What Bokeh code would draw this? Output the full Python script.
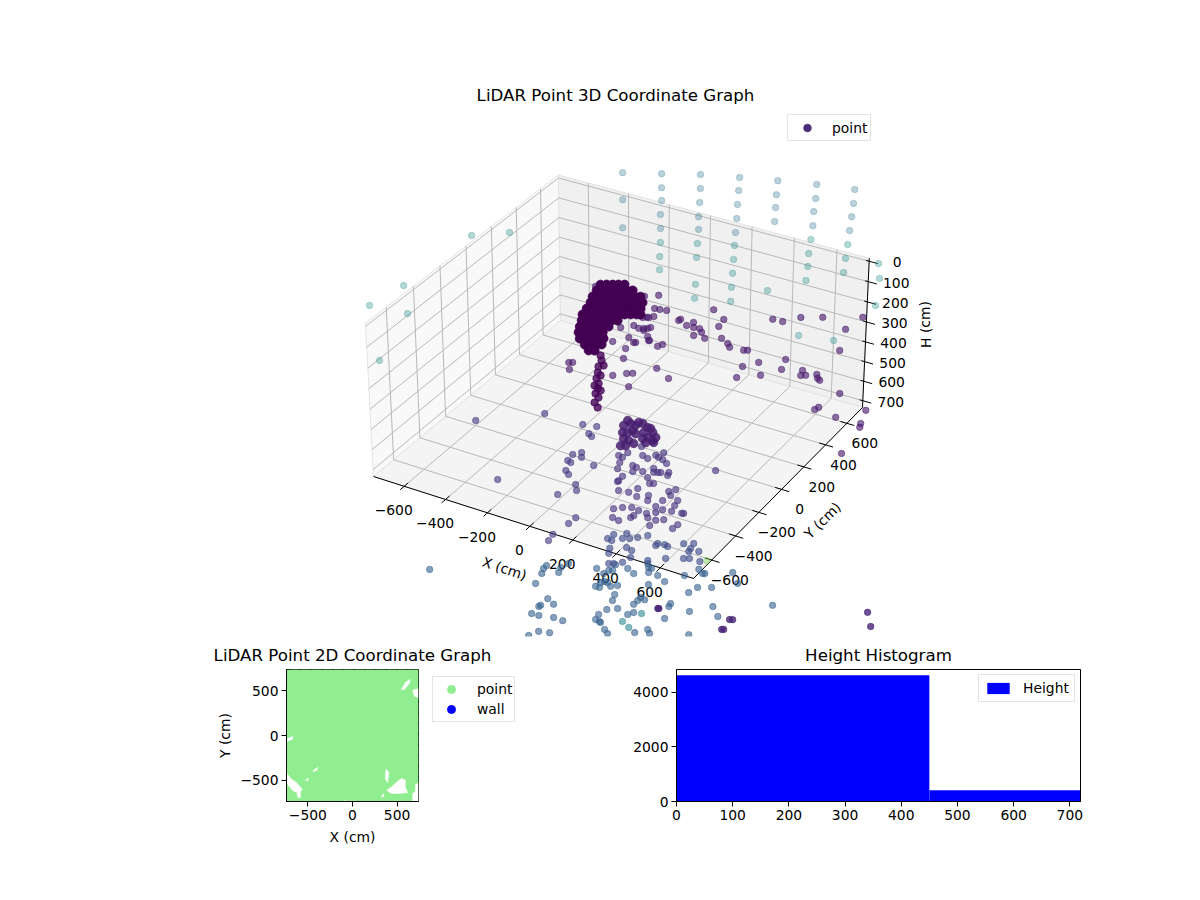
import numpy as np
from bokeh.embed import file_html
from bokeh.resources import INLINE
from bokeh.plotting import figure
from bokeh.layouts import column, row
from bokeh.core.properties import value
from bokeh.models import Legend, LegendItem, FixedTicker, Range1d, BoxAnnotation

# ---- 3D point groups, in cm (x, y, height) -------------------------------
far_top_x = [-187,-157,-126,-45,-30,-15,-4,12,96,111,124,136,150,241,252,263,276,287,382,393,404,416,527,539,546,559,670,681,689,697]
far_top_y = [329,277,222,403,376,351,321,294,478,451,422,392,367,548,521,492,463,433,617,587,560,531,686,656,627,598,750,721,691,660]
far_top_h = [-368,-271,-171,-367,-317,-271,-221,-171,-366,-316,-266,-216,-170,-359,-312,-262,-212,-162,-350,-300,-254,-204,-339,-289,-242,-192,-324,-274,-227,-177]

far_low_x = [27,40,54,161,174,200,212,298,310,322,333,346,467,567,575,586,595,706,713,722,874,858,838,629,761,-954,-853,-663,-529,-808,-857]
far_low_y = [267,238,212,338,309,254,225,406,377,348,319,290,383,567,535,508,477,629,598,566,565,626,653,357,415,-425,-319,-89,-9,-366,-512]
far_low_h = [-121,-71,-24,-120,-70,26,76,-116,-66,-16,34,84,43,-142,-92,-46,4,-127,-77,-27,89,-8,-61,202,217,124,51,-133,-146,151,320]

near_x = [79,79,99,125,85,61,46,294,179,185,235,214,241,264,275,293,250,341,331,354,382,393,447,461,515,461,452,536,518,556,617,696,841,792,794,609,605,682,681,699,738,745,755,842,769,781,854,955,951,952,915,153,207,86,76,64,85,96,132,148,-157,-171,-161,-36,19,22,2,50,72,72,-159,18,48,41,-22,23,44,62,68,29,93]
near_y = [161,127,135,146,110,94,86,240,151,157,176,156,166,176,173,167,151,241,217,200,202,198,220,228,225,186,153,204,337,352,396,439,517,460,408,284,257,296,283,292,316,310,310,324,244,256,269,342,306,297,211,15,18,82,74,63,59,55,59,72,-139,-146,-158,-19,-8,-31,-85,-54,-42,-76,54,20,24,20,23,53,57,66,98,131,53]
near_h = [68,115,118,121,144,147,148,115,156,152,162,173,180,184,197,218,209,149,174,217,235,248,258,258,300,316,356,346,145,153,137,135,132,176,252,288,324,326,344,343,339,353,360,406,465,457,491,464,511,525,620,329,364,183,187,194,216,230,250,243,313,314,339,236,260,296,357,349,348,396,41,221,238,238,185,177,187,187,148,72,230]

stem_x = [-64,-55,-59,-55,-53,-40,-38,-40,-25,-33,-17,-42,-42,-52,-25]
stem_y = [-70,-78,-96,-109,-123,-129,-140,-154,-156,-174,-177,-84,-109,-141,-138]
stem_h = [287,304,326,348,369,387,405,423,437,455,473,322,358,394,412]

core_x = [-143,-121,-99,-78,-56,
          -150,-128,-107,-85,-63,-42,-20,
          -158,-137,-115,-93,-72,-50,-28,-7,15,
          -159,-137,-115,-94,-72,-50,-29,-7,15,29,
          -166,-144,-123,-101,-79,-58,-36,-14,7,29,
          -175,-153,-131,-110,-88,-66,-45,-23,-1,20,35,
          -171,-150,-128,-106,-85,-63,-41,
          -171,-150,-128,-106,-85,-67,
          -169,-147,-126,-104,-82,
          -158,-137,-115,-93,-72,
          -133,-112,-90,-72,
          -113,-91]
core_y = [68,80,92,103,115,
          48,60,72,84,95,107,119,
          29,41,53,65,76,88,100,112,123,
          14,25,37,49,61,72,84,96,108,115,
          -6,6,17,29,41,52,64,76,88,99,
          -25,-13,-2,10,22,34,45,57,69,81,88,
          -39,-27,-16,-4,8,20,31,
          -55,-43,-31,-20,-8,2,
          -68,-56,-44,-33,-21,
          -78,-66,-54,-43,-31,
          -80,-68,-57,-47,
          -83,-72]
core_h = [34,33,33,32,32,
          55,54,54,54,53,53,52,
          77,77,76,76,75,75,75,74,74,
          98,98,97,97,97,96,96,95,95,95,
          120,120,120,119,119,118,118,118,117,117,
          142,141,141,140,140,140,139,139,138,138,138,
          163,163,162,162,161,161,161,
          185,185,184,184,183,183,
          206,206,205,205,204,
          228,228,227,227,226,
          249,248,248,247,
          270,270]

lower_core_x = [106,97,120,101,120,135,140,164,186,210,226,177,200,224,149,111,131,108,126,180,198,148,218,153,196]
lower_core_y = [-143,-161,-143,-177,-167,-153,-138,-120,-118,-118,-121,-136,-135,-135,-154,-186,-180,-206,-196,-149,-114,-126,-133,-176,-151]
lower_core_h = [517,535,528,560,560,553,535,527,541,558,576,559,577,594,564,582,589,608,608,581,544,523,587,599,595]

scatter_left_x = [-443,-201,-52,1,-20,-7,-298,-55,-25,-20,33,-66,-53,-62,-48,-11,-1,-65,26,7,-38,-47]
scatter_left_y = [-441,-293,-239,-216,-245,-245,-513,-317,-296,-305,-298,-339,-337,-362,-364,-370,-380,-424,-434,-460,-512,-532]
scatter_left_h = [528,498,535,541,567,577,737,643,635,652,680,664,671,700,714,750,771,787,868,889,929,952]

lower_mid_x = [185,142,112,128,124,123,199,220,246,272,258,276,294,174,190,181,217,253,257,272,283,312,311,241,255,269,149,140,137,151,189,218,223,264,267,321,333,356,344,375,370,365,331,303,309,479,153,184,217,245,233,224,277,286,159,184,318,346,404,411,302,402,388]
lower_mid_y = [-167,-206,-229,-225,-241,-257,-182,-178,-156,-136,-154,-151,-151,-221,-218,-233,-214,-186,-193,-185,-180,-164,-172,-215,-223,-215,-262,-278,-282,-298,-281,-257,-274,-248,-260,-231,-201,-184,-205,-201,-217,-234,-249,-256,-267,-69,-343,-323,-305,-297,-316,-326,-287,-293,-362,-356,-283,-266,-218,-215,-305,-248,-266]
lower_mid_h = [609,632,643,649,668,690,641,652,640,630,647,655,668,678,684,699,698,687,701,701,701,700,711,720,741,741,717,733,736,768,774,759,788,784,802,801,768,761,782,800,818,839,833,822,844,690,833,828,828,838,857,864,848,863,865,875,872,869,845,845,891,886,900]

front_mid_x = [182,164,181,228,218,244,272,306,243,264,183,185,346,351,377,390,445,481,475,472,508,461,482,523,268,334,396,214,245,196]
front_mid_y = [-393,-412,-408,-365,-383,-369,-352,-328,-393,-388,-427,-439,-332,-324,-313,-311,-274,-254,-269,-279,-259,-303,-291,-277,-404,-377,-338,-450,-430,-459]
front_mid_h = [925,941,947,921,939,939,934,927,971,982,975,993,962,955,958,964,953,952,970,981,980,1006,1006,1016,1007,1016,1007,1029,1024,1029]

front_x = [218,158,270,297,337,344,356,350,386,418,483,528,546,554,654,543,517,594,684,834,620,649,541,459,461,464,340,321,278,240,331,342,366,363,349,251,252,201,188,174,189,228,252,15,-4,-9,42,-27,1,57,93,18,59,-13,216,211,227,254,269,366,410,421,564,-444,51,25,27,-26,-34,-35,-46,222,204,189,213,232]
front_y = [-465,-492,-431,-429,-383,-388,-384,-398,-386,-385,-334,-294,-294,-290,-234,-331,-359,-304,-246,-219,-339,-349,-394,-457,-425,-416,-505,-521,-529,-552,-489,-475,-459,-422,-463,-524,-508,-502,-512,-529,-523,-499,-484,-647,-673,-679,-646,-707,-697,-672,-660,-728,-709,-756,-578,-594,-590,-595,-597,-542,-511,-515,-441,-821,-538,-574,-560,-585,-596,-609,-641,-448,-472,-488,-498,-590]
front_h = [1054,1048,1046,1064,1027,1041,1044,1059,1069,1090,1067,1044,1059,1059,1053,1109,1128,1108,1091,1168,1176,1211,1195,1222,1179,1168,1203,1210,1190,1194,1174,1159,1156,1102,1148,1161,1140,1094,1098,1112,1116,1111,1108,1159,1184,1188,1179,1214,1220,1226,1237,1277,1281,1292,1212,1230,1237,1266,1280,1275,1263,1277,1278,1063,1032,1065,1047,1041,1052,1070,1106,1033,1054,1066,1098,1241]

front_light_x = [370,310,339]
front_light_y = [-492,-545,-544]
front_light_h = [1206,1235,1257]

front_dark_x = [695,706,684,677,423,427,1185,1212]
front_dark_y = [-332,-326,-362,-366,-450,-448,-47,-69]
front_dark_h = [1221,1221,1257,1257,1187,1187,1186,1236]

pale_x = [547]
pale_y = [-262]
pale_h = [1012]

legend_sample_x = [-66]
legend_sample_y = [34]
legend_sample_h = [140]

# ---- 3D axes --------------------------------------------------------------
tick_x = [-600, -400, -200, 0, 200, 400, 600]
tick_y = [-600, -400, -200, 0, 200, 400, 600]
tick_h = [0, 100, 200, 300, 400, 500, 600, 700]
x_lo, x_hi = -750, 750
y_lo, y_hi = -750, 750
h_top, h_bot = -15, 735

# ---- 2D coverage: points on a coarse survey lattice, cm -------------------
survey_x = [-700,-580,-460,-340,-220,-100,20,140,260,380,500,620,740]
survey_y = [-700,-580,-460,-340,-220,-100,20,140,260,380,500,620,740]
wall_x = [0]
wall_y = [0]
gap_x = [
    [384,444,489,548,593,593,619,526,433],
    [745,705,705,675,675,745],
    [-745,-686,-630,-563,-600,-668,-745],
    [-623,-582,-582,-612],
    [545,600,645,638,582],
    [675,745,745,694],
    [-745,-668,-675,-745],
    [-444,-388,-399,-433],
    [377,407,395,369,369],
    [-526,-496,-500],
    [-108,-86,-78],
    [321,347,347],
]
gap_y = [
    [-613,-572,-526,-481,-500,-583,-639,-650,-650],
    [-526,-553,-628,-650,-745,-745],
    [-414,-489,-526,-602,-650,-620,-526],
    [-650,-639,-696,-696],
    [515,602,628,583,515],
    [508,526,425,440],
    [-38,-11,-45,-68],
    [-395,-357,-387,-406],
    [-376,-414,-526,-489,-432],
    [-500,-478,-508],
    [-745,-726,-745],
    [-688,-650,-688],
]

# ---- histogram ------------------------------------------------------------
hist_edges = [0, 450, 719]
hist_counts = [4618, 413]


def project(x, y, h):
    """Perspective camera of the 3D panel: cm -> view units."""
    u = (np.asarray(x, float) - x_lo) / (x_hi - x_lo)
    v = (np.asarray(y, float) - y_lo) / (y_hi - y_lo)
    z = (h_bot - np.asarray(h, float)) / (h_bot - h_top)
    w = 1 - 0.04468 * u + 0.0846 * v - 0.03 * z
    return ((289.04 * u + 234.38 * v - 19 * z + 373) / w,
            (76.17 * u - 128.93 * v - 163 * z + 476) / w)


FONT = "DejaVu Sans"
TICK_PX = "13.89px"
TITLE_PX = "16.67px"

p = figure(width=1192, height=664, x_range=Range1d(0, 1192), y_range=Range1d(664, 0),
           output_backend="svg", toolbar_location=None, min_border=0)
p.xaxis.visible = False
p.yaxis.visible = False
p.grid.visible = False
p.outline_line_color = None
p.background_fill_color = "white"
p.border_fill_color = "white"


def poly(corners, color):
    xs, ys = project(*zip(*corners))
    p.patch(xs, ys, fill_color=color, line_color="#e4e4e4", line_width=1)


poly([(x_lo, y_lo, h_top), (x_lo, y_hi, h_top), (x_lo, y_hi, h_bot), (x_lo, y_lo, h_bot)], "#f9f9f9")
poly([(x_lo, y_hi, h_top), (x_hi, y_hi, h_top), (x_hi, y_hi, h_bot), (x_lo, y_hi, h_bot)], "#f0f0f0")
poly([(x_lo, y_lo, h_bot), (x_hi, y_lo, h_bot), (x_hi, y_hi, h_bot), (x_lo, y_hi, h_bot)], "#f4f4f4")


def paths(segments):
    xs, ys = [], []
    for seg in segments:
        a, b = project(*zip(*seg))
        xs.append(list(a))
        ys.append(list(b))
    return xs, ys


grid_segments = []
for t in tick_x:
    grid_segments.append([(t, y_lo, h_bot), (t, y_hi, h_bot), (t, y_hi, h_top)])
for t in tick_y:
    grid_segments.append([(x_lo, t, h_top), (x_lo, t, h_bot), (x_hi, t, h_bot)])
for t in tick_h:
    grid_segments.append([(x_lo, y_lo, t), (x_lo, y_hi, t), (x_hi, y_hi, t)])
gx, gy = paths(grid_segments)
p.multi_line(gx, gy, line_color="#b8b8b8", line_width=1)

axis_segments = [[(x_lo, y_lo, h_bot), (x_hi, y_lo, h_bot), (x_hi, y_hi, h_bot), (x_hi, y_hi, h_top)]]
for t in tick_x:
    axis_segments.append([(t, y_lo + 30, h_bot), (t, y_lo - 30, h_bot)])
for t in tick_y:
    axis_segments.append([(x_hi - 30, t, h_bot), (x_hi + 35, t, h_bot)])
for t in tick_h:
    axis_segments.append([(x_hi - 15, y_hi, t), (x_hi + 40, y_hi, t)])
ax, ay = paths(axis_segments)
p.multi_line(ax, ay, line_color="black", line_width=1)


def fmt(t):
    return str(t).replace("-", "\u2212")


def tick_text(xs, ys, labels, dx, dy):
    p.text(xs, ys, text=labels, x_offset=dx, y_offset=dy, text_align="center",
           text_baseline="middle", text_font=value(FONT), text_font_size=TICK_PX, text_color="black")


tx, ty = project(tick_x, [y_lo] * len(tick_x), [h_bot] * len(tick_x))
tick_text(tx, ty, [fmt(t) for t in tick_x], -10.5, 24)
tx, ty = project([x_hi] * len(tick_y), tick_y, [h_bot] * len(tick_y))
tick_text(tx, ty, [fmt(t) for t in tick_y], 18, 20)
tx, ty = project([x_hi] * len(tick_h), [y_hi] * len(tick_h), tick_h)
tick_text(tx, ty, [fmt(t) for t in tick_h], 28, 1)

for label, lx, ly, ang in [("X (cm)", 504, 568, -0.32), ("Y (cm)", 822, 520, 0.78), ("H (cm)", 925, 324, 1.5708)]:
    p.text([lx], [ly], text=[label], angle=ang, text_align="center", text_baseline="middle",
           text_font=value(FONT), text_font_size=TICK_PX, text_color="black")


def cloud(x, y, h, color, alpha, size=6.5):
    sx, sy = project(x, y, h)
    return p.scatter(sx, sy, marker="circle", size=size, fill_color=color, fill_alpha=alpha,
                     line_color=color, line_alpha=alpha, line_width=0.8)


cloud(far_top_x, far_top_y, far_top_h, "#2c728e", 0.32)
cloud(far_low_x, far_low_y, far_low_h, "#228d8d", 0.34)
sample = cloud(legend_sample_x, legend_sample_y, legend_sample_h, "#472c7a", 1.0)
cloud(front_x, front_y, front_h, "#35608d", 0.6)
cloud(front_light_x, front_light_y, front_light_h, "#26828e", 0.56)
cloud(front_dark_x, front_dark_y, front_dark_h, "#482677", 0.8)
cloud(pale_x, pale_y, pale_h, "#7ad151", 0.4)
cloud(front_mid_x, front_mid_y, front_mid_h, "#3e4989", 0.62)
cloud(scatter_left_x, scatter_left_y, scatter_left_h, "#443a83", 0.62)
cloud(lower_mid_x, lower_mid_y, lower_mid_h, "#46307e", 0.62)
cloud(lower_core_x, lower_core_y, lower_core_h, "#481f70", 0.85, size=8.5)
cloud(near_x, near_y, near_h, "#481a6c", 0.62)
cloud(stem_x, stem_y, stem_h, "#450559", 0.8, size=7.5)
cloud(core_x, core_y, core_h, "#440154", 1.0, size=9)

# The 3D panel ends here: marks that fall lower are cut off, as in a clipped axes.
p.quad(left=[0], right=[1192], top=[636], bottom=[664], fill_color="white", line_color=None)

for label, lx, ly in [("LiDAR Point 3D Coordinate Graph", 615, 95),
                      ("LiDAR Point 2D Coordinate Graph", 352, 655),
                      ("Height Histogram", 878, 655)]:
    p.text([lx], [ly], text=[label], text_align="center", text_baseline="middle",
           text_font=value(FONT), text_font_size=TITLE_PX, text_color="black")

p.add_layout(Legend(items=[LegendItem(label="point", renderers=[sample])], location=(787, 523),
                    orientation="vertical", padding=3, margin=0, spacing=0, glyph_width=32, glyph_height=19,
                    label_standoff=9, label_text_font=FONT, label_text_font_size=TICK_PX,
                    label_text_color="black", label_height=16, border_line_color="#cccccc",
                    border_line_width=1, background_fill_color="white", background_fill_alpha=0.8))


def style_2d(fig):
    fig.grid.visible = False
    fig.outline_line_color = "black"
    fig.outline_line_width = 1
    for axis in list(fig.xaxis) + list(fig.yaxis):
        axis.minor_tick_line_color = None
        axis.major_tick_in = 0
        axis.major_tick_out = 5
        axis.axis_line_color = "black"
        axis.major_tick_line_color = "black"
        axis.major_label_text_font = FONT
        axis.major_label_text_font_size = TICK_PX
        axis.major_label_text_color = "black"
        axis.major_label_standoff = 3
        axis.axis_label_text_font = FONT
        axis.axis_label_text_font_size = TICK_PX
        axis.axis_label_text_font_style = "normal"
        axis.axis_label_text_color = "black"
        axis.axis_label_standoff = 6


p2 = figure(width=430, height=196, x_range=Range1d(-740, 740), y_range=Range1d(-740, 740),
            output_backend="svg", toolbar_location=None,
            min_border_left=286, min_border_right=12, min_border_top=5, min_border_bottom=59,
            x_axis_label="X (cm)", y_axis_label="Y (cm)")
style_2d(p2)
p2.yaxis.axis_label_standoff = 4
p2.xaxis.ticker = FixedTicker(ticks=[-500, 0, 500])
p2.yaxis.ticker = FixedTicker(ticks=[-500, 0, 500])
p2.xaxis.major_label_overrides = {-500: "\u2212500", 0: "0", 500: "500"}
p2.yaxis.major_label_overrides = {-500: "\u2212500", 0: "0", 500: "500"}
p2.scatter(wall_x, wall_y, marker="circle", size=4, fill_color="blue", line_color="blue")
lx, ly = np.meshgrid(survey_x, survey_y)
p2.scatter(lx.ravel(), ly.ravel(), marker="circle", size=18, fill_color="#90ee90", line_color="#90ee90")
p2.patches(gap_x, gap_y, fill_color="white", line_color="white", line_width=0.5)
p2.add_layout(BoxAnnotation(left=-740, right=740, bottom=-740, top=740, fill_alpha=0, line_color="black",
                            line_width=1, line_alpha=1, level="overlay"))

# The 2D legend sits beside the frame, so it gets a small key panel of its own
# whose view range leaves its sample marks out of sight.
key = figure(width=100, height=196, x_range=Range1d(5000, 6000), y_range=Range1d(5000, 6000),
             output_backend="svg", toolbar_location=None, min_border=0)
key.xaxis.visible = False
key.yaxis.visible = False
key.grid.visible = False
key.outline_line_color = None
key_point = key.scatter(survey_x[:1], survey_y[:1], marker="circle", size=9, fill_color="#90ee90", line_color="#90ee90")
key_wall = key.scatter(wall_x, wall_y, marker="circle", size=9, fill_color="blue", line_color="blue")
key.add_layout(Legend(items=[LegendItem(label="point", renderers=[key_point]), LegendItem(label="wall", renderers=[key_wall])],
                      location=(2, 79), padding=2, margin=0, spacing=0, glyph_width=32, glyph_height=20,
                      label_standoff=10, label_text_font=FONT, label_text_font_size=TICK_PX,
                      label_text_color="black", border_line_color="#cccccc",
                      background_fill_color="white", background_fill_alpha=0.8))

p3 = figure(width=662, height=196, x_range=Range1d(0, 719), y_range=Range1d(0, 4826),
            output_backend="svg", toolbar_location=None,
            min_border_left=146, min_border_right=112, min_border_top=5, min_border_bottom=59)
style_2d(p3)
p3.xaxis.ticker = FixedTicker(ticks=[0, 100, 200, 300, 400, 500, 600, 700])
p3.yaxis.ticker = FixedTicker(ticks=[0, 2000, 4000])
bars = p3.quad(left=hist_edges[:-1], right=hist_edges[1:], top=hist_counts, bottom=[0, 0],
               fill_color="blue", line_color="blue", line_width=0)
p3.add_layout(BoxAnnotation(left=0, right=719, bottom=0, top=4826, fill_alpha=0, line_color="black",
                            line_width=1, line_alpha=1, level="overlay"))
p3.add_layout(Legend(items=[LegendItem(label="Height", renderers=[bars])], location=(302, 99),
                     padding=5, margin=0, spacing=0, glyph_width=28, glyph_height=14,
                     label_standoff=11, label_text_font=FONT, label_text_font_size=TICK_PX,
                     label_text_color="black", border_line_color="#cccccc",
                     background_fill_color="white", background_fill_alpha=0.8))

page = column(p, row(p2, key, p3))
open("out.html", "w").write(file_html(page, INLINE))
